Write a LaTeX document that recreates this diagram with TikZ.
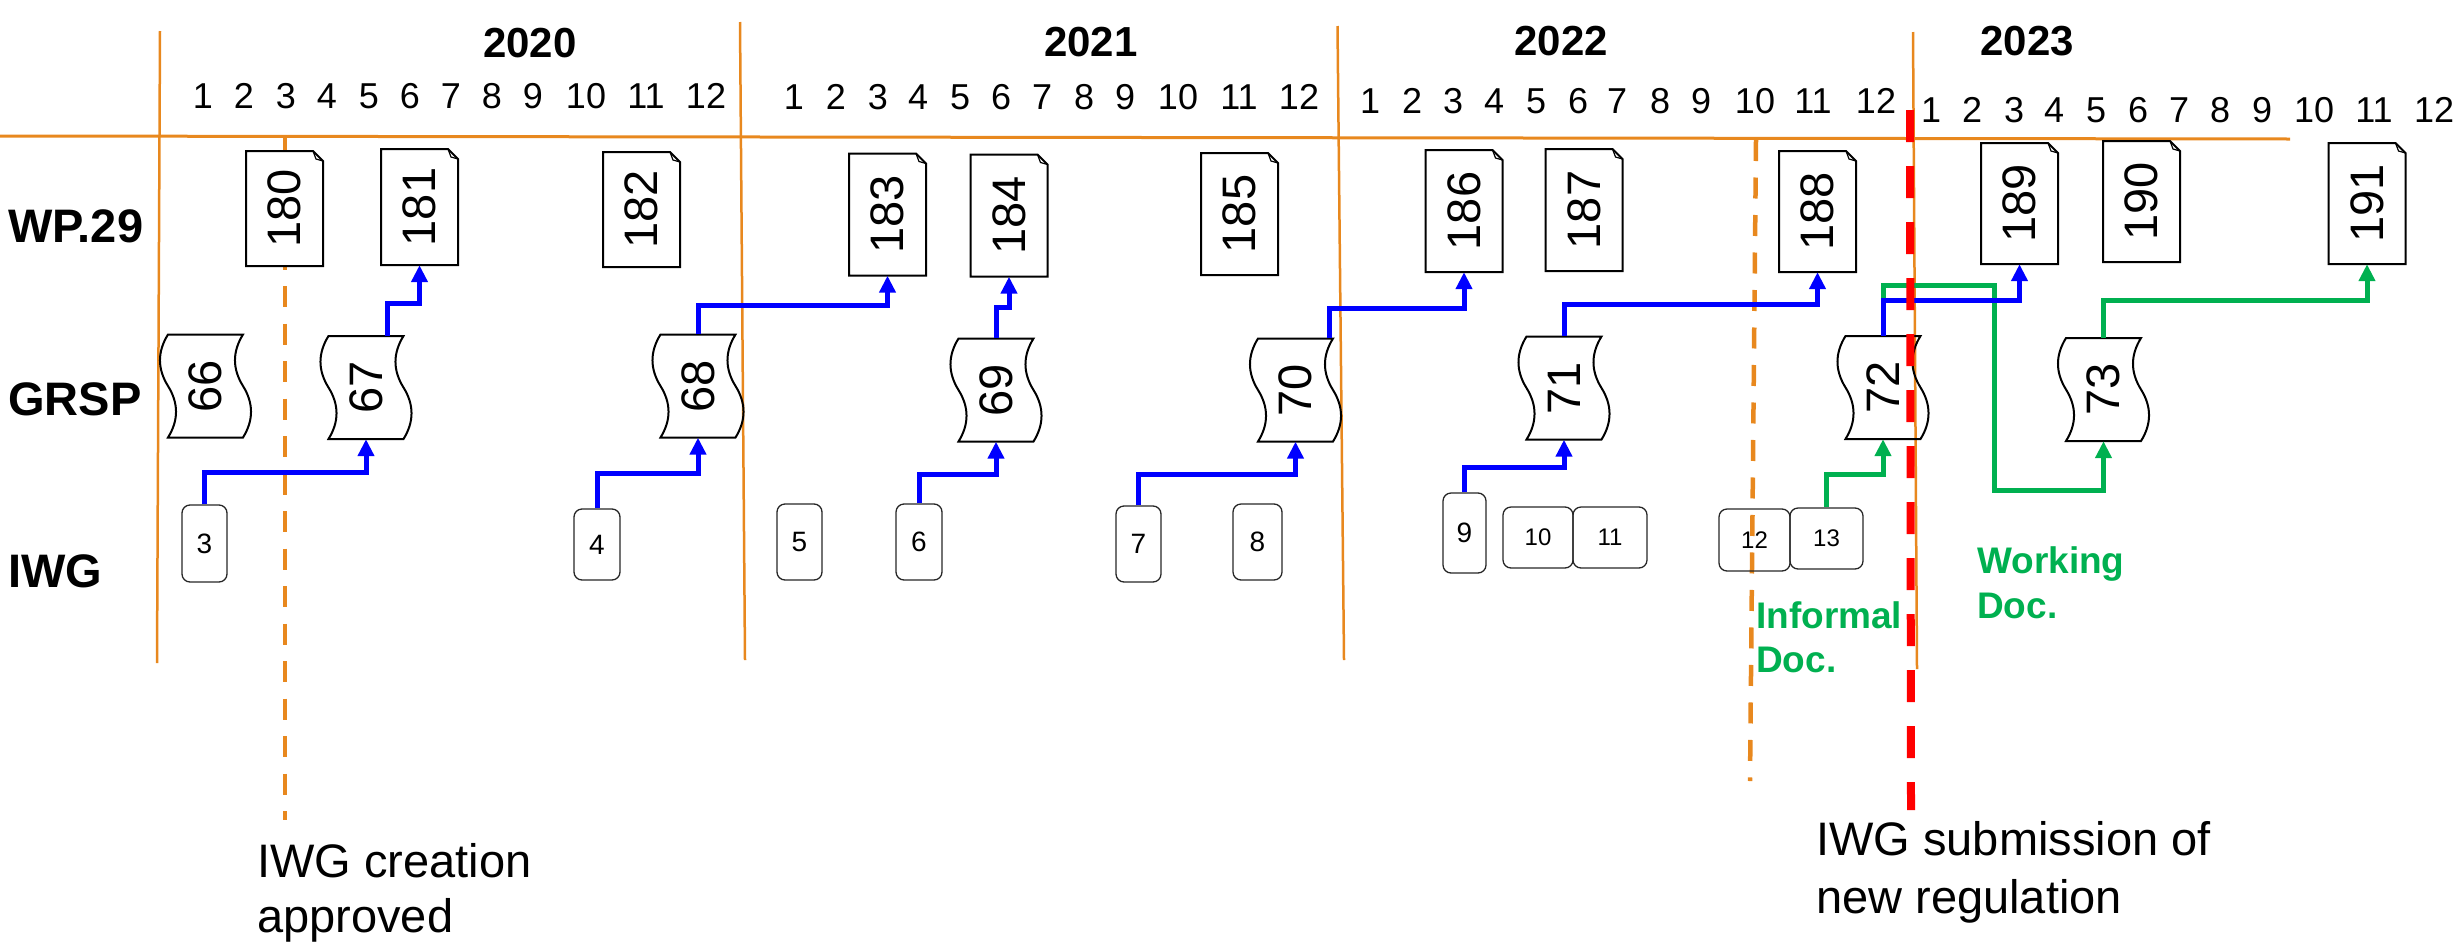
\documentclass[tikz,border=0pt]{standalone}
\usepackage{graphicx}
\usepackage{fontspec}
\setmainfont{Liberation Sans}
\usetikzlibrary{arrows.meta}
\definecolor{lineorange}{RGB}{232,136,30}
\definecolor{docgreen}{RGB}{0,176,80}
\definecolor{arrowblue}{RGB}{0,0,255}
\definecolor{subred}{RGB}{255,0,0}
\tikzset{
 yearline/.style={draw=lineorange, line width=2.5pt},
 axisline/.style={draw=lineorange, line width=3pt},
 orangedash/.style={draw=lineorange, line width=4.5pt, dash pattern=on 21pt off 16.5pt},
 reddash/.style={draw=subred, line width=8pt, dash pattern=on 32pt off 24pt},
 docline/.style={draw=black, line width=2pt, line join=miter},
 foldline/.style={draw=black, line width=1.2pt},
 scrollline/.style={draw=black, line width=2pt},
 doctext/.style={inner sep=0pt, font=\fontsize{47}{56}\selectfont},
 iwgbox/.style={draw=black!85, line width=1.3pt, rounded corners=8pt, inner sep=0pt},
 onedigit/.style={font=\fontsize{28}{34}\selectfont},
 twodigit/.style={font=\fontsize{24}{29}\selectfont},
 flowblue/.style={draw=arrowblue, line width=5pt, -{Triangle[width=16pt,length=17pt]}},
 flowgreen/.style={draw=docgreen, line width=5pt, -{Triangle[width=16pt,length=17pt]}},
 yearlabel/.style={font=\fontsize{42}{50}\selectfont\bfseries, anchor=base, inner sep=0pt},
 monthlabel/.style={font=\fontsize{36}{43}\selectfont, anchor=base, inner sep=0pt},
 rowlabel/.style={font=\fontsize{47}{56}\selectfont\bfseries, anchor=base west, inner sep=0pt},
 greennote/.style={font=\fontsize{37}{44}\selectfont\bfseries, text=docgreen, anchor=base west, inner sep=0pt},
 blacknote/.style={font=\fontsize{47}{56}\selectfont, anchor=base west, inner sep=0pt},
}
% document sheet: name, x, y, height, label
\newcommand\docnode[5]{%
  \begin{scope}[shift={(#2,#3)}]
    \filldraw[docline,fill=white] (-38.5,{#4/2}) -- (-38.5,{-#4/2}) -- (28.5,{-#4/2}) -- (38.5,{-#4/2+10}) -- (38.5,{#4/2}) -- cycle;
    \draw[foldline] (28.5,{-#4/2}) -- (31.5,{-#4/2+8}) -- (38.5,{-#4/2+10});
  \end{scope}
  \node[doctext, minimum width=77, minimum height=#4] (#1) at (#2,#3) {\rotatebox{90}{#5}};
}
% punched-tape scroll: name, x, y, label
\newcommand\scrollnode[4]{%
  \begin{scope}[shift={(#2,#3)}]
    \draw[scrollline] (-37.5,-51.5) .. controls (-48.2,-34.3) and (-48.2,-17.2) .. (-37.5,0)
      .. controls (-26.8,17.2) and (-26.8,34.3) .. (-37.5,51.5) -- (37.5,51.5)
      .. controls (48.2,34.3) and (48.2,17.2) .. (37.5,0)
      .. controls (26.8,-17.2) and (26.8,-34.3) .. (37.5,-51.5) -- cycle;
  \end{scope}
  \node[doctext, minimum width=75, minimum height=103] (#1) at (#2,#3) {\rotatebox{90}{#4}};
}
\begin{document}
\begin{tikzpicture}[x=1pt,y=-1pt]
\useasboundingbox (0,0) rectangle (2458,943);
% grid
\draw[axisline] (0,136) -- (2290,139);
\draw[yearline] (160,31) -- (157,663);
\draw[yearline] (740,22) -- (745,660);
\draw[yearline] (1337.5,26) -- (1344,660);
\draw[yearline] (1913,32) -- (1917,669);
\coordinate (oda) at (285,136);
\coordinate (odb) at (285,820);
\coordinate (odc) at (1756,140);
\coordinate (odd) at (1750,781);
\draw[orangedash] (oda) -- (odb);
\draw[orangedash] (odc) -- (odd);
% year labels
\node[yearlabel] (y2020) at (530,57) {2020};
\node[yearlabel] (y2021) at (1091,56) {2021};
\node[yearlabel] (y2022) at (1561,55) {2022};
\node[yearlabel] (y2023) at (2027,55) {2023};
% months
\foreach \m/\x in {1/203,2/244,3/286,4/327,5/369,6/410,7/451,8/492,9/533,10/586,11/646,12/706}
  \node[monthlabel] (ma\m) at (\x,108) {\m};
\foreach \m/\x in {1/794,2/836,3/878,4/918,5/960,6/1001,7/1042,8/1084,9/1125,10/1178,11/1239,12/1299}
  \node[monthlabel] (mb\m) at (\x,109) {\m};
\foreach \m/\x in {1/1370,2/1412,3/1453,4/1494,5/1536,6/1578,7/1617,8/1660,9/1701,10/1755,11/1813,12/1876}
  \node[monthlabel] (mc\m) at (\x,113) {\m};
\foreach \m/\x in {1/1931,2/1972,3/2014,4/2054,5/2096,6/2138,7/2179,8/2220,9/2262,10/2314,11/2374,12/2434}
  \node[monthlabel] (md\m) at (\x,122) {\m};
% row labels
\node[rowlabel] (lwp) at (8,242) {WP.29};
\node[rowlabel] (lgrsp) at (8,415) {GRSP};
\node[rowlabel] (liwg) at (8,587) {IWG};
% WP.29 sessions
\docnode{w180}{284.5}{208.5}{115}{180}
\docnode{w181}{419.5}{207}{116}{181}
\docnode{w182}{641.5}{209.5}{115}{182}
\docnode{w183}{887.5}{214.5}{122}{183}
\docnode{w184}{1009}{215.5}{122}{184}
\docnode{w185}{1239.5}{214}{122}{185}
\docnode{w186}{1464}{211}{122}{186}
\docnode{w187}{1584}{210}{122}{187}
\docnode{w188}{1817.5}{211.5}{121}{188}
\docnode{w189}{2019.5}{203.5}{121}{189}
\docnode{w190}{2141.5}{201.5}{121}{190}
\docnode{w191}{2367}{203.5}{121}{191}
% GRSP sessions
\scrollnode{g66}{205.5}{386}{66}
\scrollnode{g67}{366}{387.5}{67}
\scrollnode{g68}{698}{386}{68}
\scrollnode{g69}{996}{390}{69}
\scrollnode{g70}{1295.5}{390}{70}
\scrollnode{g71}{1564}{388}{71}
\scrollnode{g72}{1883}{387.5}{72}
\scrollnode{g73}{2103.5}{389.5}{73}
% IWG sessions
\node[iwgbox, onedigit, minimum width=45, minimum height=77] (i3) at (204.5,543.5) {3};
\node[iwgbox, onedigit, minimum width=46, minimum height=71] (i4) at (597,544.5) {4};
\node[iwgbox, onedigit, minimum width=45, minimum height=76] (i5) at (799.5,542) {5};
\node[iwgbox, onedigit, minimum width=46, minimum height=76] (i6) at (919,542) {6};
\node[iwgbox, onedigit, minimum width=45, minimum height=76] (i7) at (1138.5,544) {7};
\node[iwgbox, onedigit, minimum width=49, minimum height=76] (i8) at (1257.5,542) {8};
\node[iwgbox, onedigit, minimum width=43, minimum height=80] (i9) at (1464.5,533) {9};
\node[iwgbox, twodigit, minimum width=70, minimum height=61] (i10) at (1538,537.5) {10};
\node[iwgbox, twodigit, minimum width=74, minimum height=61] (i11) at (1610,537.5) {11};
\node[iwgbox, twodigit, minimum width=71, minimum height=62] (i12) at (1754.5,540) {12};
\node[iwgbox, twodigit, minimum width=73, minimum height=61] (i13) at (1826.5,538.5) {13};
% connectors
\coordinate (s67) at ([xshift=21pt]g67.north);
\coordinate (s70) at ([xshift=34pt]g70.north);
\coordinate (gturn) at (1994,490);
\draw[flowgreen] (g72.north) -- (g72.north |- 0,285) -- (gturn |- 0,285) -- (gturn) -| (g73.south);
\draw[flowgreen] (i13.north) -- (i13.north |- 0,474) -| (g72.south);
\draw[flowgreen] (g73.north) -- (g73.north |- 0,300) -| (w191.south);
\draw[flowblue] (i3.north) -- (i3.north |- 0,472) -| (g67.south);
\draw[flowblue] (i4.north) -- (i4.north |- 0,473) -| (g68.south);
\draw[flowblue] (i6.north) -- (i6.north |- 0,474) -| (g69.south);
\draw[flowblue] (i7.north) -- (i7.north |- 0,474) -| (g70.south);
\draw[flowblue] (i9.north) -- (i9.north |- 0,467) -| (g71.south);
\draw[flowblue] (s67) -- (s67 |- 0,303) -| (w181.south);
\draw[flowblue] (g68.north) -- (g68.north |- 0,305) -| (w183.south);
\draw[flowblue] (g69.north) -- (g69.north |- 0,307) -| (w184.south);
\draw[flowblue] (s70) -- (s70 |- 0,308) -| (w186.south);
\draw[flowblue] (g71.north) -- (g71.north |- 0,304) -| (w188.south);
\draw[flowblue] (g72.north) -- (g72.north |- 0,300) -| (w189.south);
% submission line
\coordinate (rda) at (1910,110);
\coordinate (rdb) at (1911,810);
\draw[reddash] (rda) -- (rdb);
% notes
\node[greennote] (inf1) at (1756,628) {Informal};
\node[greennote] (inf2) at (1756,672) {Doc.};
\node[greennote] (wrk1) at (1977,573) {Working};
\node[greennote] (wrk2) at (1977,618) {Doc.};
\node[blacknote] (cr1) at (257,877) {IWG creation};
\node[blacknote] (cr2) at (257,932) {approved};
\node[blacknote] (sb1) at (1816,855) {IWG submission of};
\node[blacknote] (sb2) at (1816,913) {new regulation};
\end{tikzpicture}
\end{document}
